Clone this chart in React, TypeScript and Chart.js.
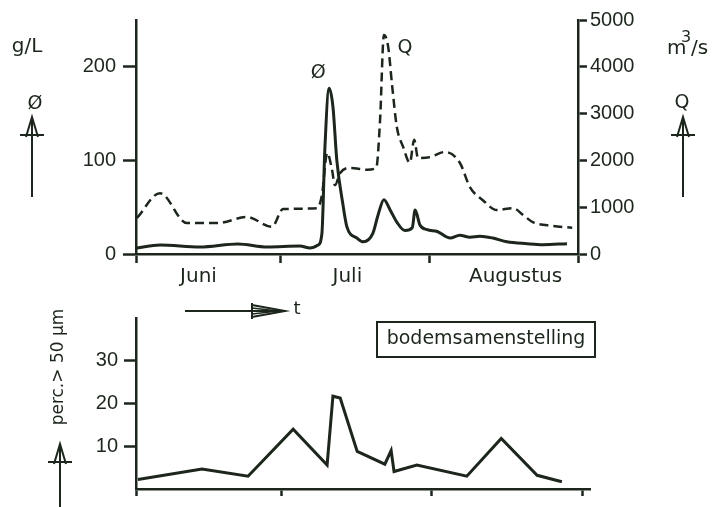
import { useEffect, useRef } from 'react';
import { Chart, registerables } from 'chart.js';

Chart.register(...registerables);

const INK = '#1c261c';
const WORD_FONT = '"DejaVu Sans", sans-serif';
const NUM_FONT = '"Liberation Sans", Arial, sans-serif';

// ---- top chart: days since 1 June ----
const concDays = [0.2, 5, 13.3, 21.2, 27.3, 34.1, 36.2, 37.9, 38.7, 39.3, 40.2, 41, 41.8, 43.1, 43.9, 46, 47.3, 49.3, 50.4, 51.6, 52.9, 54.3, 56, 57.5, 58.1, 59.1, 60.6, 62.7, 65.4, 67.4, 69.5, 71.6, 74.3, 77.2, 81.4, 84.7, 89.7];
const concValues = [6.4, 9.6, 7.5, 10.7, 7.5, 8.5, 6.4, 9.6, 22, 111, 177, 157, 100, 52, 29, 17, 13, 22, 42, 58, 47, 34, 25, 28, 47, 31, 26, 24, 17, 20, 18, 19, 17, 13, 11, 10, 11];

const flowDays = [0.2, 5, 10.6, 16.9, 23.1, 28.3, 30.6, 37.7, 38.7, 39.8, 40.8, 41.4, 42.5, 44.5, 48.1, 50, 50.8, 51.6, 52.5, 53.3, 54.3, 55.6, 57, 57.9, 58.7, 61.2, 64.3, 67.4, 69.5, 72.2, 75.1, 78.5, 80.6, 82.6, 86.8, 90.8];
const flowValues = [770, 1300, 660, 660, 790, 580, 960, 980, 1260, 2160, 1800, 1470, 1730, 1840, 1800, 1840, 2860, 4680, 4420, 3610, 2710, 2290, 1950, 2440, 2050, 2070, 2180, 1950, 1430, 1150, 940, 980, 830, 680, 600, 560];

const monthLabels = ['Juni', 'Juli', 'Augustus'];
const monthLabelDays = [13, 44, 79];
const monthBoundaryDays = [0, 30, 61, 92];
const concTicks = [0, 100, 200];
const flowTicks = [0, 1000, 2000, 3000, 4000, 5000];

// ---- bottom chart ----
const sandDays = [0.4, 13.6, 23.1, 32.4, 39.4, 40.6, 42.1, 45.6, 51.3, 52.6, 53.2, 57.9, 68.2, 75.3, 82.7, 87.8];
const sandValues = [2.2, 4.7, 3.0, 14.0, 5.6, 21.7, 21.3, 8.8, 5.8, 9.0, 4.1, 5.6, 3.0, 11.8, 3.2, 1.7];
const sandTicks = [10, 20, 30];

function upArrow(ctx: CanvasRenderingContext2D, x: number, yTip: number, yEnd: number) {
  ctx.save();
  ctx.strokeStyle = INK;
  ctx.lineWidth = 2;
  ctx.beginPath();
  ctx.moveTo(x, yTip);
  ctx.lineTo(x, yEnd);
  ctx.moveTo(x - 6, yTip + 20);
  ctx.lineTo(x, yTip);
  ctx.lineTo(x + 6, yTip + 20);
  ctx.moveTo(x - 12, yTip + 18);
  ctx.lineTo(x + 12, yTip + 18);
  ctx.stroke();
  ctx.restore();
}

function text(ctx: CanvasRenderingContext2D, s: string, x: number, y: number, size: number, family = WORD_FONT, align: CanvasTextAlign = 'center') {
  ctx.save();
  ctx.fillStyle = INK;
  ctx.font = `${size}px ${family}`;
  ctx.textAlign = align;
  ctx.textBaseline = 'middle';
  ctx.fillText(s, x, y);
  ctx.restore();
}

const topDecor = {
  id: 'topDecor',
  afterDraw(chart: any) {
    const ctx = chart.ctx as CanvasRenderingContext2D;
    text(ctx, 'g/L', 27, 47, 20);
    text(ctx, 'Ø', 35, 104, 19);
    upArrow(ctx, 32, 117, 197);
    // m³/s
    ctx.save();
    ctx.fillStyle = INK;
    ctx.textBaseline = 'alphabetic';
    ctx.font = `20px ${WORD_FONT}`;
    ctx.textAlign = 'left';
    ctx.fillText('m', 667, 54);
    ctx.font = `16px ${WORD_FONT}`;
    ctx.fillText('3', 681, 42);
    ctx.font = `20px ${WORD_FONT}`;
    ctx.fillText('/s', 691, 54);
    ctx.restore();
    text(ctx, 'Q', 682, 103, 19);
    upArrow(ctx, 683, 117, 197);
    // series labels near peaks
    const xs = chart.scales.x;
    const ys = chart.scales.y;
    const y2 = chart.scales.y2;
    const ci = concValues.indexOf(Math.max(...concValues));
    text(ctx, 'Ø', xs.getPixelForValue(concDays[ci]) - 11, ys.getPixelForValue(concValues[ci]) - 15, 19);
    const fi = flowValues.indexOf(Math.max(...flowValues));
    text(ctx, 'Q', xs.getPixelForValue(flowDays[fi]) + 21, y2.getPixelForValue(flowValues[fi]) + 13, 19);
  },
};

const bottomDecor = {
  id: 'bottomDecor',
  afterDraw(chart: any) {
    const ctx = chart.ctx as CanvasRenderingContext2D;
    const oy = 290;
    // rotated y label
    ctx.save();
    ctx.translate(59, 367 - oy);
    ctx.rotate(-Math.PI / 2);
    ctx.fillStyle = INK;
    ctx.font = `17px ${WORD_FONT}`;
    ctx.textAlign = 'center';
    ctx.textBaseline = 'middle';
    ctx.fillText('perc.> 50 µm', 0, 0);
    ctx.restore();
    upArrow(ctx, 60, 444 - oy, 510 - oy);
    // time arrow
    ctx.save();
    ctx.strokeStyle = INK;
    ctx.lineWidth = 2;
    const ty = 311 - oy;
    ctx.beginPath();
    ctx.moveTo(185, ty);
    ctx.lineTo(284, ty);
    ctx.moveTo(252, ty - 8);
    ctx.lineTo(252, ty + 8);
    ctx.moveTo(252, ty - 6);
    ctx.lineTo(285, ty);
    ctx.lineTo(252, ty + 6);
    ctx.stroke();
    ctx.lineWidth = 1.5;
    ctx.beginPath();
    ctx.moveTo(252, ty - 3);
    ctx.lineTo(278, ty);
    ctx.lineTo(252, ty + 3);
    ctx.stroke();
    ctx.restore();
    text(ctx, 't', 297, 309 - oy, 18);
    // boxed title
    ctx.save();
    ctx.strokeStyle = INK;
    ctx.lineWidth = 2;
    ctx.strokeRect(377, 322 - oy, 218, 35);
    ctx.restore();
    text(ctx, 'bodemsamenstelling', 486, 339 - oy, 19);
  },
};

function fixedTicks(values: number[]) {
  return (axis: any) => {
    axis.ticks = values.map((v) => ({ value: v }));
  };
}

const plainNumber = (v: any) => String(v);

function TopChart() {
  const ref = useRef<HTMLCanvasElement>(null);
  useEffect(() => {
    if (!ref.current) return;
    const allX = [...monthBoundaryDays, ...monthLabelDays].sort((a, b) => a - b);
    const chart = new Chart(ref.current, {
      type: 'line',
      data: {
        datasets: [
          {
            label: 'Ø',
            data: concDays.map((d, i) => ({ x: d, y: concValues[i] })),
            yAxisID: 'y',
            borderColor: INK,
            borderWidth: 3,
            pointRadius: 0,
            cubicInterpolationMode: 'monotone',
            fill: false,
          },
          {
            label: 'Q',
            data: flowDays.map((d, i) => ({ x: d, y: flowValues[i] })),
            yAxisID: 'y2',
            borderColor: INK,
            borderWidth: 2.5,
            borderDash: [9, 5],
            pointRadius: 0,
            cubicInterpolationMode: 'monotone',
            fill: false,
          },
        ],
      },
      options: {
        animation: false,
        responsive: false,
        devicePixelRatio: 1,
        layout: { padding: { top: 20, left: 0, right: 0, bottom: 0 } },
        plugins: { legend: { display: false }, tooltip: { enabled: false } },
        scales: {
          x: {
            type: 'linear',
            min: 0,
            max: 92,
            afterBuildTicks: fixedTicks(allX),
            afterFit: (s: any) => { s.height = 46; },
            grid: {
              drawOnChartArea: false,
              drawTicks: true,
              tickLength: 9,
              tickWidth: 2.5,
              tickColor: (c: any) => (c.tick && monthBoundaryDays.includes(c.tick.value) ? INK : 'rgba(0,0,0,0)'),
            },
            border: { display: true, color: INK, width: 2.5 },
            ticks: {
              autoSkip: false,
              maxRotation: 0,
              padding: 2,
              color: INK,
              font: { family: WORD_FONT, size: 20 },
              callback: (v: any) => {
                const i = monthLabelDays.indexOf(Number(v));
                return i >= 0 ? monthLabels[i] : '';
              },
            },
          },
          y: {
            position: 'left',
            min: 0,
            max: 250,
            afterBuildTicks: fixedTicks(concTicks),
            afterFit: (s: any) => { s.width = 136; },
            grid: { drawOnChartArea: false, tickLength: 13, tickWidth: 2.5, tickColor: INK },
            border: { display: true, color: INK, width: 2.5 },
            ticks: { padding: 7, color: INK, font: { family: NUM_FONT, size: 20 }, callback: plainNumber },
          },
          y2: {
            position: 'right',
            min: 0,
            max: 5000,
            afterBuildTicks: fixedTicks(flowTicks),
            afterFit: (s: any) => { s.width = 136; },
            grid: { drawOnChartArea: false, tickLength: 9, tickWidth: 2.5, tickColor: INK },
            border: { display: true, color: INK, width: 2.5 },
            ticks: { padding: 3, color: INK, font: { family: NUM_FONT, size: 20 }, callback: plainNumber },
          },
        },
      },
      plugins: [topDecor],
    } as any);
    return () => chart.destroy();
  }, []);
  return <canvas ref={ref} width={714} height={300} style={{ position: 'absolute', left: 0, top: 0 }} />;
}

function BottomChart() {
  const ref = useRef<HTMLCanvasElement>(null);
  useEffect(() => {
    if (!ref.current) return;
    const chart = new Chart(ref.current, {
      type: 'line',
      data: {
        datasets: [
          {
            label: 'perc. > 50 µm',
            data: sandDays.map((d, i) => ({ x: d, y: sandValues[i] })),
            borderColor: INK,
            borderWidth: 3,
            pointRadius: 0,
            tension: 0,
            fill: false,
          },
        ],
      },
      options: {
        animation: false,
        responsive: false,
        devicePixelRatio: 1,
        layout: { padding: { top: 28, left: 0, right: 124, bottom: 0 } },
        plugins: { legend: { display: false }, tooltip: { enabled: false } },
        scales: {
          x: {
            type: 'linear',
            min: 0,
            max: 93.6,
            afterBuildTicks: fixedTicks(monthBoundaryDays),
            afterFit: (s: any) => { s.height = 5; },
            grid: { drawOnChartArea: false, tickLength: 7, tickWidth: 2.5, tickColor: INK },
            border: { display: true, color: INK, width: 2.5 },
            ticks: { display: false },
          },
          y: {
            position: 'left',
            min: 0,
            max: 40,
            afterBuildTicks: fixedTicks(sandTicks),
            afterFit: (s: any) => { s.width = 136; },
            grid: { drawOnChartArea: false, tickLength: 12, tickWidth: 2.5, tickColor: INK },
            border: { display: true, color: INK, width: 2.5 },
            ticks: { padding: 6, color: INK, font: { family: NUM_FONT, size: 20 }, callback: plainNumber },
          },
        },
      },
      plugins: [bottomDecor],
    } as any);
    return () => chart.destroy();
  }, []);
  return <canvas ref={ref} width={714} height={217} style={{ position: 'absolute', left: 0, top: 290 }} />;
}

export default function App() {
  return (
    <div style={{ position: 'absolute', left: 0, top: 0, width: 714, height: 507, background: '#ffffff', overflow: 'hidden' }}>
      <TopChart />
      <BottomChart />
    </div>
  );
}
